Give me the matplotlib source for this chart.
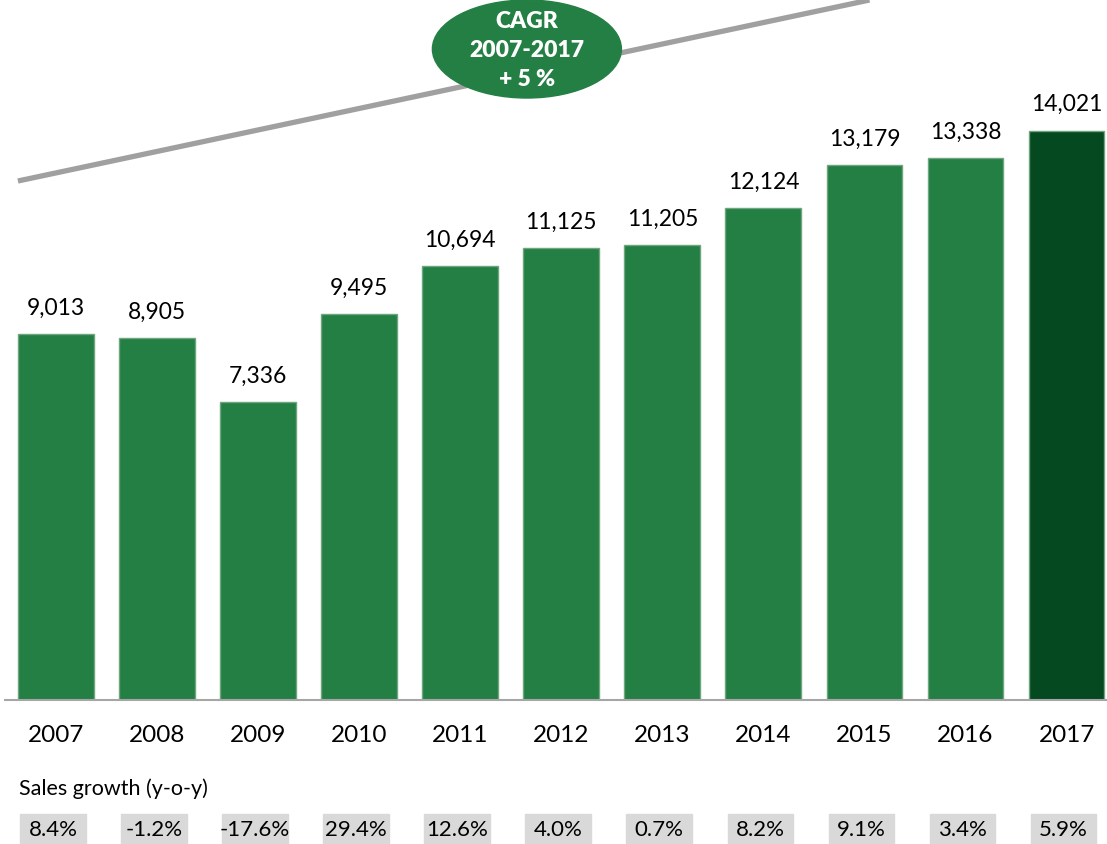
import matplotlib
matplotlib.use('Agg')
import matplotlib.pyplot as plt
from matplotlib.patches import Ellipse, Rectangle
from matplotlib.transforms import blended_transform_factory

years = ['2007', '2008', '2009', '2010', '2011', '2012',
         '2013', '2014', '2015', '2016', '2017']
sales = [9013, 8905, 7336, 9495, 10694, 11125, 11205, 12124, 13179, 13338, 14021]
growth = ['8.4%', '-1.2%', '-17.6%', '29.4%', '12.6%', '4.0%',
          '0.7%', '8.2%', '9.1%', '3.4%', '5.9%']
cagr_text = 'CAGR\n2007-2017\n+ 5 %'

GREEN = '#237F43'
DARK_GREEN = '#04491F'
EDGE = '#6FA57F'

plt.rcParams['font.family'] = ['Lato', 'DejaVu Sans']

fig = plt.figure(figsize=(11.07, 8.44), dpi=100)
ax = fig.add_axes([5 / 1107, 144 / 844, 1 - 5 / 1107, 700 / 844])

xs = range(len(years))
colors = [GREEN] * (len(years) - 1) + [DARK_GREEN]
rects = ax.bar(xs, sales, width=0.75, color=colors, edgecolor=EDGE, linewidth=1)

for rect, value in zip(rects, sales):
    ax.annotate('{:,}'.format(value),
                xy=(rect.get_x() + rect.get_width() / 2, value),
                xytext=(0, 11), textcoords='offset points',
                ha='center', va='bottom', fontsize=16.5)

ax.set_xlim(-0.504, 10.4)
ax.set_ylim(0, 17237)
ax.set_xticks(list(xs))
ax.set_xticklabels(years, fontsize=17.5)
ax.tick_params(axis='x', length=0, pad=18)
ax.set_yticks([])
for side in ('left', 'right', 'top'):
    ax.spines[side].set_visible(False)
ax.spines['bottom'].set_color('#A6A6A6')
ax.spines['bottom'].set_linewidth(1.5)

# CAGR trend line and badge
ax.plot([-0.376, 8.05], [12780, 17237], color='#A0A0A0', lw=3.8,
        solid_capstyle='butt', clip_on=False, zorder=3)
ax.add_patch(Ellipse((4.66, 16030), 1.87, 2413, color=GREEN,
                     clip_on=False, zorder=4))
ax.text(4.66, 15990, cagr_text, ha='center', va='center', color='white',
        fontsize=16.5, fontweight='heavy', linespacing=1.45, zorder=5)

# sales growth row
trans = blended_transform_factory(ax.transData, fig.transFigure)
fig.text(19 / 1107, (844 - 789) / 844, 'Sales growth (y-o-y)',
         fontsize=15.5, ha='left', va='center')
for x, g in zip(xs, growth):
    ax.add_patch(Rectangle((x - 0.355, 0), 0.65, 30 / 844, transform=trans,
                           color='#D9D9D9', clip_on=False, zorder=1))
    ax.text(x - 0.03, 14 / 844, g, transform=trans, ha='center', va='center',
            fontsize=16, zorder=2)

fig.savefig('out.png', dpi=100)
